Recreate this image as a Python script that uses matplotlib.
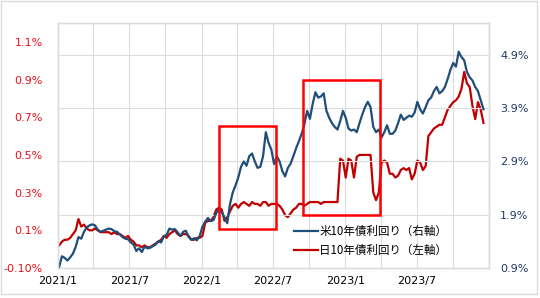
import matplotlib
matplotlib.use("Agg")
import matplotlib.pyplot as plt
import matplotlib.dates as mdates
from matplotlib.patches import Rectangle
from matplotlib.lines import Line2D
import pandas as pd
import numpy as np

# ---------------- data ----------------
week_start = "2021-01-04"
n_weeks = 155
dates = pd.date_range(week_start, periods=n_weeks, freq="7D")

us10y = [
    # 2021
    0.92, 1.12, 1.09, 1.04,
    1.10, 1.17, 1.30, 1.48,
    1.45, 1.58, 1.66, 1.70, 1.72,
    1.70, 1.62, 1.58, 1.60,
    1.62, 1.64, 1.63, 1.59, 1.58,
    1.53, 1.48, 1.45, 1.44,
    1.38, 1.34, 1.22, 1.27,
    1.20, 1.30, 1.27, 1.28, 1.31,
    1.34, 1.40, 1.38, 1.50,
    1.52, 1.64, 1.62, 1.63,
    1.57, 1.50, 1.58, 1.60, 1.48,
    1.43, 1.46, 1.42, 1.50,
    # 2022
    1.68, 1.77, 1.84, 1.78, 1.80,
    1.93, 2.00, 1.95, 1.85,
    1.74, 2.10, 2.32, 2.45,
    2.60, 2.80, 2.90, 2.82,
    3.00, 3.05, 2.90, 2.78, 2.80,
    3.00, 3.45, 3.25, 3.12,
    2.85, 3.00, 2.90, 2.72,
    2.62, 2.78, 2.86, 3.00, 3.15,
    3.28, 3.42, 3.60, 3.85,
    3.70, 3.98, 4.20, 4.10, 4.12,
    4.18, 3.85, 3.72, 3.62,
    3.55, 3.50, 3.66, 3.85,
    # 2023
    3.72, 3.52, 3.48, 3.50, 3.45,
    3.62, 3.78, 3.92, 4.02,
    3.92, 3.55, 3.45, 3.50,
    3.35, 3.45, 3.58, 3.42,
    3.42, 3.48, 3.62, 3.78, 3.68,
    3.72, 3.76, 3.74, 3.82,
    4.02, 3.88, 3.80, 3.92, 4.05,
    4.10, 4.22, 4.30, 4.18,
    4.22, 4.30, 4.45, 4.62,
    4.75, 4.68, 4.96, 4.86, 4.80,
    4.58, 4.48, 4.42, 4.30,
    4.22, 4.05, 3.88,
]

jp10y = [
    # 2021
    0.02, 0.04, 0.05, 0.05,
    0.06, 0.08, 0.10, 0.16,
    0.12, 0.13, 0.11, 0.10, 0.10,
    0.11, 0.10, 0.09, 0.09,
    0.09, 0.09, 0.08, 0.09, 0.08,
    0.08, 0.07, 0.06, 0.07,
    0.05, 0.04, 0.02, 0.02,
    0.01, 0.02, 0.01, 0.01, 0.02,
    0.03, 0.04, 0.05, 0.07,
    0.06, 0.08, 0.09, 0.10,
    0.08, 0.07, 0.08, 0.08, 0.07,
    0.05, 0.05, 0.06, 0.06,
    # 2022
    0.07, 0.14, 0.15, 0.15, 0.17,
    0.21, 0.22, 0.21, 0.15,
    0.17, 0.20, 0.23, 0.24,
    0.22, 0.24, 0.25, 0.24,
    0.23, 0.25, 0.24, 0.24, 0.23,
    0.25, 0.25, 0.23, 0.24,
    0.24, 0.24, 0.23, 0.21,
    0.18, 0.17, 0.19, 0.21, 0.22,
    0.24, 0.24, 0.23, 0.24,
    0.25, 0.25, 0.25, 0.25, 0.24,
    0.25, 0.25, 0.25, 0.25,
    0.25, 0.25, 0.48, 0.47,
    # 2023
    0.38, 0.48, 0.47, 0.38, 0.49,
    0.50, 0.50, 0.50, 0.50,
    0.50, 0.30, 0.26, 0.30,
    0.46, 0.47, 0.46, 0.40,
    0.40, 0.38, 0.39, 0.42, 0.43,
    0.42, 0.43, 0.37, 0.40,
    0.47, 0.46, 0.42, 0.44, 0.60,
    0.62, 0.64, 0.65, 0.66,
    0.66, 0.70, 0.74, 0.76,
    0.78, 0.79, 0.81, 0.85, 0.94,
    0.88, 0.86, 0.76, 0.69,
    0.78, 0.74, 0.67,
]

left_ticks = [-0.1, 0.1, 0.3, 0.5, 0.7, 0.9, 1.1]
left_labels = ["-0.10%", "0.1%", "0.3%", "0.5%", "0.7%", "0.9%", "1.1%"]
right_ticks = [0.9, 1.9, 2.9, 3.9, 4.9]
right_labels = ["0.9%", "1.9%", "2.9%", "3.9%", "4.9%"]
x_label_dates = ["2021-01-01", "2021-07-01", "2022-01-01", "2022-07-01", "2023-01-01", "2023-07-01"]
x_labels = ["2021/1", "2021/7", "2022/1", "2022/7", "2023/1", "2023/7"]
x_grid_dates = pd.date_range("2021-04-01", "2023-12-01", freq="3MS")
series_names = ["米10年債利回り（右軸）", "日10年債利回り（左軸）"]

# ---------------- drawing ----------------
W, H = 540, 298
fig = plt.figure(figsize=(W / 100, H / 100), dpi=100)
plt.rcParams['font.family'] = ['DejaVu Sans']

L, R, T, B = 58, 489, 23, 268
ax = fig.add_axes([L / W, 1 - B / H, (R - L) / W, (B - T) / H])
ax2 = ax.twinx()

grid_c = "#dcdcdc"
blue = "#1f4e79"
red = "#c00000"

xmin, xmax = pd.Timestamp("2021-01-01"), pd.Timestamp("2024-01-01")
ax.set_xlim(xmin, xmax)
ax.set_ylim(-0.1, 1.2)
ax2.set_ylim(0.9, 5.5)

# grid lines
for d in x_grid_dates:
    ax.axvline(d, color=grid_c, lw=0.8, zorder=0)
for v in right_ticks[1:]:
    ax2.axhline(v, color=grid_c, lw=0.8, zorder=0)

ax.plot(dates, jp10y, color=red, lw=1.6, zorder=2)
ax2.plot(dates, us10y, color=blue, lw=1.6, zorder=2)

# ticks
ax.set_yticks(left_ticks)
ax.set_yticklabels(left_labels, color="#e8101a", fontsize=8)
ax.tick_params(axis="y", length=0, pad=11)
ax2.set_yticks(right_ticks)
ax2.set_yticklabels(right_labels, color="#1f3864", fontsize=8)
ax2.tick_params(axis="y", length=0, pad=8)
ax.set_xticks(pd.to_datetime(x_label_dates))
ax.set_xticklabels(x_labels, fontsize=8, color="#000000")
ax.tick_params(axis="x", length=0, pad=6)

for a in (ax, ax2):
    for s in a.spines.values():
        s.set_color(grid_c)
        s.set_linewidth(1)

# red highlight boxes (in data coords of the left axis)
boxes = [
    (pd.Timestamp("2022-02-13"), pd.Timestamp("2022-07-08"), 0.107, 0.654),
    (pd.Timestamp("2022-09-16"), pd.Timestamp("2023-03-29"), 0.181, 0.898),
]
for x0, x1, y0, y1 in boxes:
    x0n, x1n = mdates.date2num(x0), mdates.date2num(x1)
    rect = Rectangle((x0n, y0), x1n - x0n, y1 - y0, fill=False,
                     ec="#ff0000", lw=1.8, zorder=5)
    ax2.add_patch(rect)
    rect.set_transform(ax.transData)

# legend
handles = [Line2D([], [], color=blue, lw=1.6), Line2D([], [], color=red, lw=1.6)]
leg = fig.legend(handles, series_names, loc="upper left",
                 bbox_to_anchor=(294 / W, 1 - 225 / H), frameon=False,
                 prop={"family": ["Noto Sans CJK JP", "DejaVu Sans"], "size": 8.3},
                 handlelength=2.1, handletextpad=0.1, labelspacing=0.5,
                 borderpad=0, borderaxespad=0)

# outer chart border
fig.patches.append(Rectangle((1 / W, 4 / H), 536 / W, 293 / H, transform=fig.transFigure,
                             fill=False, ec=grid_c, lw=1))

fig.savefig("out.png", dpi=100)
